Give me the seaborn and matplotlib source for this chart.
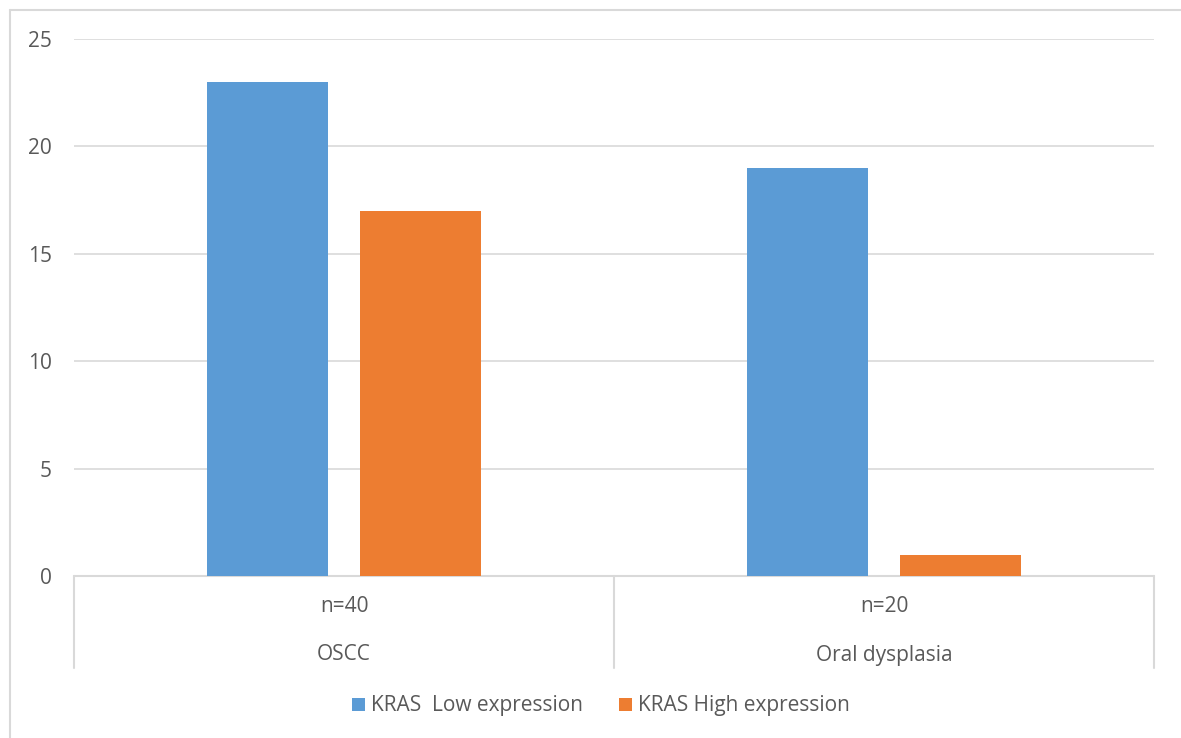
import matplotlib
matplotlib.use("Agg")
import matplotlib.pyplot as plt
import matplotlib.transforms as mtransforms
from matplotlib.lines import Line2D
from matplotlib.patches import Patch
import seaborn as sns
import pandas as pd

# Data
groups = ["OSCC", "Oral dysplasia"]
group_n = ["n=40", "n=20"]
series = ["KRAS  Low expression", "KRAS High expression"]
low_values = [23, 19]
high_values = [17, 1]
colors = ["#5B9BD5", "#ED7D31"]
yticks = [0, 5, 10, 15, 20, 25]

df = pd.DataFrame({
    "group": groups * 2,
    "series": [series[0]] * len(groups) + [series[1]] * len(groups),
    "value": low_values + high_values,
})

sns.set_theme(style="white")
plt.rcParams["font.family"] = ["Open Sans", "DejaVu Sans"]
text_color = "#595959"
grid_color = "#D9D9D9"
fs = 15

W, H = 1181, 738
fig = plt.figure(figsize=(W / 100, H / 100), dpi=100)
ax = fig.add_axes([74 / W, 1 - 576 / H, (1154 - 74) / W, (576 - 39) / H])

sns.barplot(data=df, x="group", y="value", hue="series", hue_order=series,
            palette=colors, width=0.51, gap=0.12, saturation=1,
            legend=False, ax=ax)

# push each pair outwards so the bars sit at the slot edges
shift = 8 / 540
for i, p in enumerate(ax.patches[: 2 * len(groups)]):
    s = -shift if i < len(groups) else shift
    p.set_x(p.get_x() + s)
    p.set_linewidth(0)

ax.set_xlim(-0.5, len(groups) - 0.5)
ax.set_ylim(0, 25)
ax.set_yticks(yticks)
ax.set_yticklabels([str(t) for t in yticks], color=text_color, fontsize=fs)
ax.tick_params(axis="y", length=0, pad=16)
ax.set_xticks([])
ax.set_xlabel("")
ax.set_ylabel("")
for sp in ax.spines.values():
    sp.set_visible(False)
ax.yaxis.grid(True, color=grid_color, linewidth=1.2)
ax.set_axisbelow(True)
ax.axhline(0, color=grid_color, linewidth=1.5, clip_on=False, zorder=0.5)

# two-level category axis
trans = mtransforms.blended_transform_factory(ax.transData, ax.transAxes)
axes_h = 576 - 39
for xb in [-0.5 + k for k in range(len(groups) + 1)]:
    ax.add_line(Line2D([xb, xb], [0, -92 / axes_h], transform=trans,
                       color=grid_color, linewidth=1.5, clip_on=False))
for i, (g, n) in enumerate(zip(groups, group_n)):
    ax.text(i, -30 / axes_h, n, transform=trans, ha="center", va="center",
            color=text_color, fontsize=fs)
    ax.text(i, -79 / axes_h, g, transform=trans, ha="center", va="center",
            color=text_color, fontsize=fs)

# legend
handles = [Patch(facecolor=c, edgecolor="none") for c in colors]
fig.legend(handles, series, loc="center", bbox_to_anchor=(601 / W, 1 - 706 / H),
           ncol=2, frameon=False, fontsize=fs, labelcolor=text_color,
           handlelength=0.6, handleheight=0.6, handletextpad=0.3,
           columnspacing=1.75)

# chart area outline
fig.add_artist(Line2D([10 / W, 10 / W], [0, 1 - 10 / H], transform=fig.transFigure,
                      color=grid_color, linewidth=1.5))
fig.add_artist(Line2D([10 / W, 1], [1 - 10 / H, 1 - 10 / H], transform=fig.transFigure,
                      color=grid_color, linewidth=1.5))

fig.savefig("out.png", dpi=100, facecolor="white")
